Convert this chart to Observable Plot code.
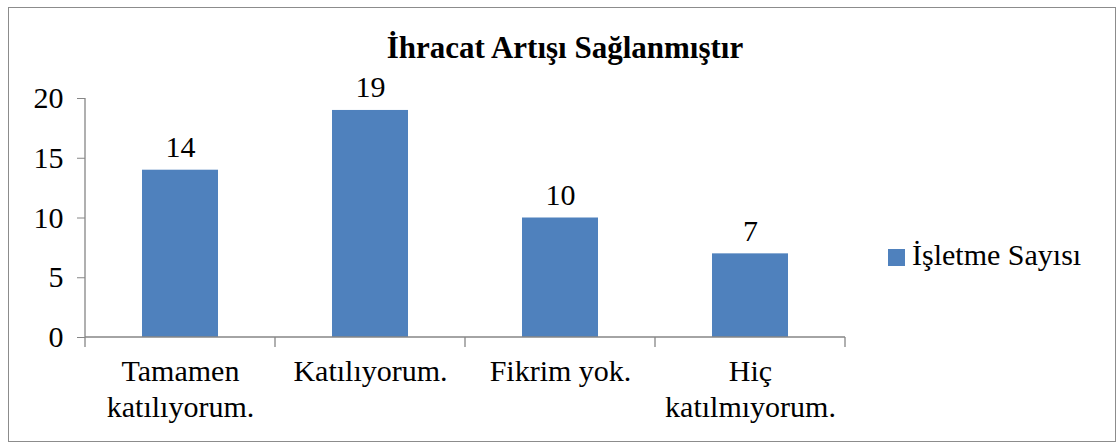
<!DOCTYPE html>
<html>
<head>
<meta charset="utf-8">
<script src="https://cdn.jsdelivr.net/npm/d3@7"></script>
<script src="https://cdn.jsdelivr.net/npm/@observablehq/plot@0.6"></script>
<style>
  html, body { margin: 0; padding: 0; background: #fff; }
  #wrap { position: relative; width: 1120px; height: 446px; font-family: "Liberation Serif", "DejaVu Serif", "Times New Roman", Times, serif; }
  #frame { position: absolute; left: 8px; top: 7px; width: 1108px; height: 435px; border: 1.5px solid #8c8c8c; box-sizing: border-box; }
  #title { position: absolute; left: 0; top: 32px; width: 1130px; text-align: center; font-size: 31px; font-weight: bold; line-height: 1; color: #000; }
  #legend { position: absolute; left: 888px; top: 240px; font-size: 30px; line-height: 1; color: #000; display: flex; align-items: center; white-space: nowrap; }
  #legend .sw { width: 17px; height: 17px; background: #4F81BD; margin-right: 7px; margin-top: 4px; }
  svg { position: absolute; left: 0; top: 0; }
</style>
</head>
<body>
<div id="wrap">
  <div id="frame"></div>
  <div id="title"></div>
  <div id="legend"><div class="sw"></div><span id="legtext"></span></div>
</div>
<script>
const title = "İhracat Artışı Sağlanmıştır";
const seriesName = "İşletme Sayısı";
const categories = ["Tamamen katılıyorum.", "Katılıyorum.", "Fikrim yok.", "Hiç katılmıyorum."];
const tickLabels = ["Tamamen\nkatılıyorum.", "Katılıyorum.", "Fikrim yok.", "Hiç\nkatılmıyorum."];
const values = [14, 19, 10, 7];
const yTicks = [0, 5, 10, 15, 20];

const data = categories.map((c, i) => ({category: c, value: values[i]}));
const labelOf = new Map(categories.map((c, i) => [c, tickLabels[i]]));

document.getElementById("title").textContent = title;
document.getElementById("legtext").textContent = seriesName;

const axisColor = "#868686";
const serif = "'Liberation Serif', 'DejaVu Serif', 'Times New Roman', Times, serif";

function axesLines(index, scales, values, dims) {
  const g = d3.create("svg:g");
  const x = scales.x, y = scales.y;
  const step = x.step(), bw = x.bandwidth();
  const pad = (step - bw) / 2;
  const x0 = x(categories[0]) - pad;
  const xs = categories.map(c => x(c) - pad).concat([x(categories[categories.length - 1]) + bw + pad]);
  const yb = y(0), yt = y(yTicks[yTicks.length - 1]);
  g.append("line").attr("x1", x0).attr("x2", x0).attr("y1", yt).attr("y2", yb)
    .attr("stroke", axisColor).attr("stroke-width", 1.3);
  g.append("line").attr("x1", x0).attr("x2", xs[xs.length - 1]).attr("y1", yb).attr("y2", yb)
    .attr("stroke", axisColor).attr("stroke-width", 1.3);
  for (const xv of xs) {
    g.append("line").attr("x1", xv).attr("x2", xv).attr("y1", yb).attr("y2", yb + 10)
      .attr("stroke", axisColor).attr("stroke-width", 1.3);
  }
  return g.node();
}

const chart = Plot.plot({
  width: 1120,
  height: 446,
  marginLeft: 85,
  marginRight: 275,
  marginTop: 98,
  marginBottom: 109,
  style: {fontFamily: serif, background: "transparent", color: "#000", overflow: "visible"},
  x: {domain: categories, paddingInner: 0.6, paddingOuter: 0.3, label: null},
  y: {domain: [0, 20], label: null},
  marks: [
    Plot.barY(data, {x: "category", y: "value", fill: "#4F81BD"}),
    Plot.text(data, {x: "category", y: "value", text: d => String(d.value), lineAnchor: "bottom", dy: -13, fontSize: 30, fontFamily: serif, fill: "#000"}),
    Plot.axisY({ticks: yTicks, tickSize: 8, tickPadding: 14, stroke: axisColor, fontSize: 30, fontFamily: serif, fill: "#000", label: null, tickFormat: d => String(d)}),
    Plot.axisX({tickSize: 0, tickPadding: 19, fontSize: 30, fontFamily: serif, fill: "#000", lineHeight: 1.17, label: null, tickFormat: d => labelOf.get(d)}),
    axesLines
  ]
});
document.getElementById("wrap").appendChild(chart);
</script>
</body>
</html>
